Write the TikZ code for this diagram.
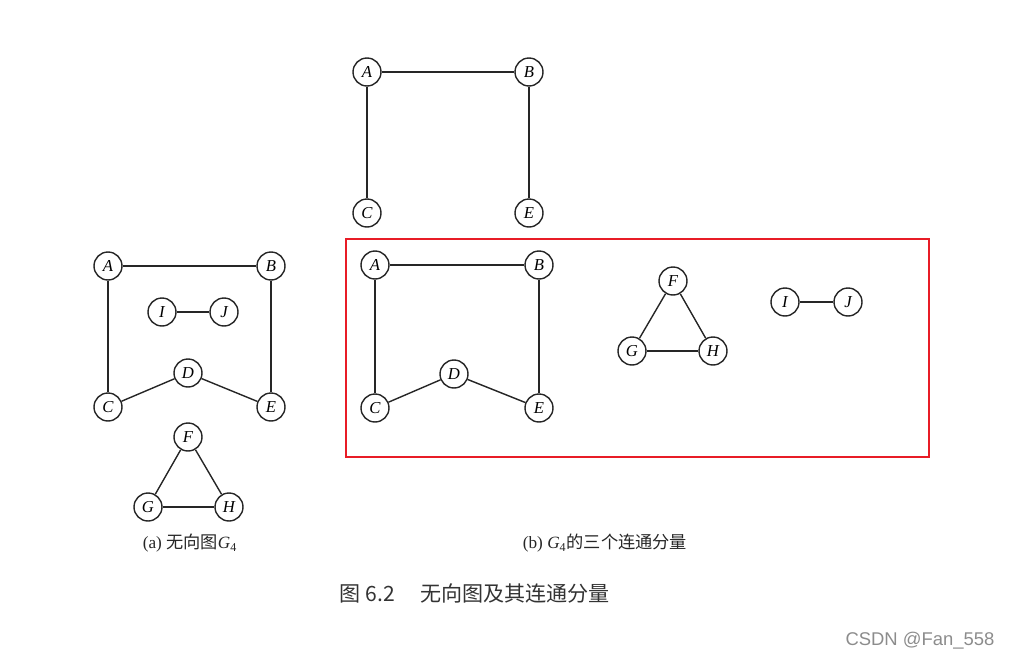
\documentclass[tikz,border=0pt]{standalone}
\usepackage{fontspec}
\setmainfont{Liberation Serif}
\newfontfamily\cjk{Noto Sans CJK SC}
\newfontfamily\wmfont{Liberation Sans}
\usetikzlibrary{positioning}
\definecolor{markred}{RGB}{232,28,38}

\begin{document}
\begin{tikzpicture}[
    x=0.02cm, y=-0.02cm,
    vertex/.style={circle, draw=black!85, line width=0.8pt, fill=white, minimum size=0.56cm, inner sep=0pt, font=\itshape\fontsize{9.5}{10}\selectfont},
    edge/.style={line width=0.8pt, draw=black!85},
    subcap/.style={font=\fontsize{9.8}{11}\selectfont, text=black!85},
    figcap/.style={font=\cjk\fontsize{12}{14}\selectfont, text=black!80}
]
\useasboundingbox (0,0) rectangle (1011,660);

% ==================== (a) undirected graph G4 ====================
\node[vertex] (aA) at (108,266) {A};
\node[vertex] (aB) at (271,266) {B};
\node[vertex] (aI) at (162,312) {I};
\node[vertex] (aJ) at (224,312) {J};
\node[vertex] (aD) at (188,373) {D};
\node[vertex] (aC) at (108,407) {C};
\node[vertex] (aE) at (271,407) {E};
\node[vertex] (aF) at (188,437) {F};
\node[vertex] (aG) at (148,507) {G};
\node[vertex] (aH) at (229,507) {H};

\draw[edge] (aA) -- (aB);
\draw[edge] (aA) -- (aC);
\draw[edge] (aB) -- (aE);
\draw[edge] (aC) -- (aD);
\draw[edge] (aD) -- (aE);
\draw[edge] (aI) -- (aJ);
\draw[edge] (aF) -- (aG);
\draw[edge] (aF) -- (aH);
\draw[edge] (aG) -- (aH);

\node[subcap] (capA) at (190,543) {(a) {\cjk 无向图}\textit{G}\textsubscript{4}};

% ==================== top fragment ====================
\node[vertex] (tA) at (367,72) {A};
\node[vertex] (tB) at (529,72) {B};
\node[vertex] (tC) at (367,213) {C};
\node[vertex] (tE) at (529,213) {E};

\draw[edge] (tA) -- (tB);
\draw[edge] (tA) -- (tC);
\draw[edge] (tB) -- (tE);

% ==================== (b) three connected components ====================
\node[draw=markred, line width=1.6pt, minimum width=11.66cm, minimum height=4.36cm, inner sep=0pt] (frame) at (637.5,348) {};

\node[vertex] (bA) at (375,265) {A};
\node[vertex] (bB) at (539,265) {B};
\node[vertex] (bD) at (454,374) {D};
\node[vertex] (bC) at (375,408) {C};
\node[vertex] (bE) at (539,408) {E};

\draw[edge] (bA) -- (bB);
\draw[edge] (bA) -- (bC);
\draw[edge] (bB) -- (bE);
\draw[edge] (bC) -- (bD);
\draw[edge] (bD) -- (bE);

\node[vertex] (bF) at (673,281) {F};
\node[vertex] (bG) at (632,351) {G};
\node[vertex] (bH) at (713,351) {H};

\draw[edge] (bF) -- (bG);
\draw[edge] (bF) -- (bH);
\draw[edge] (bG) -- (bH);

\node[vertex] (bI) at (785,302) {I};
\node[vertex] (bJ) at (848,302) {J};

\draw[edge] (bI) -- (bJ);

\node[subcap] (capB) at (605,543) {(b) \textit{G}\textsubscript{4}{\cjk 的三个连通分量}};

% ==================== captions ====================
\node[figcap] (caption) at (475,593) {图 6.2\hspace{1.2em}无向图及其连通分量};
\node[font=\wmfont\fontsize{10.5}{12}\selectfont, text=black!45] (mark) at (920,641) {CSDN @Fan\_558};

\end{tikzpicture}
\end{document}
